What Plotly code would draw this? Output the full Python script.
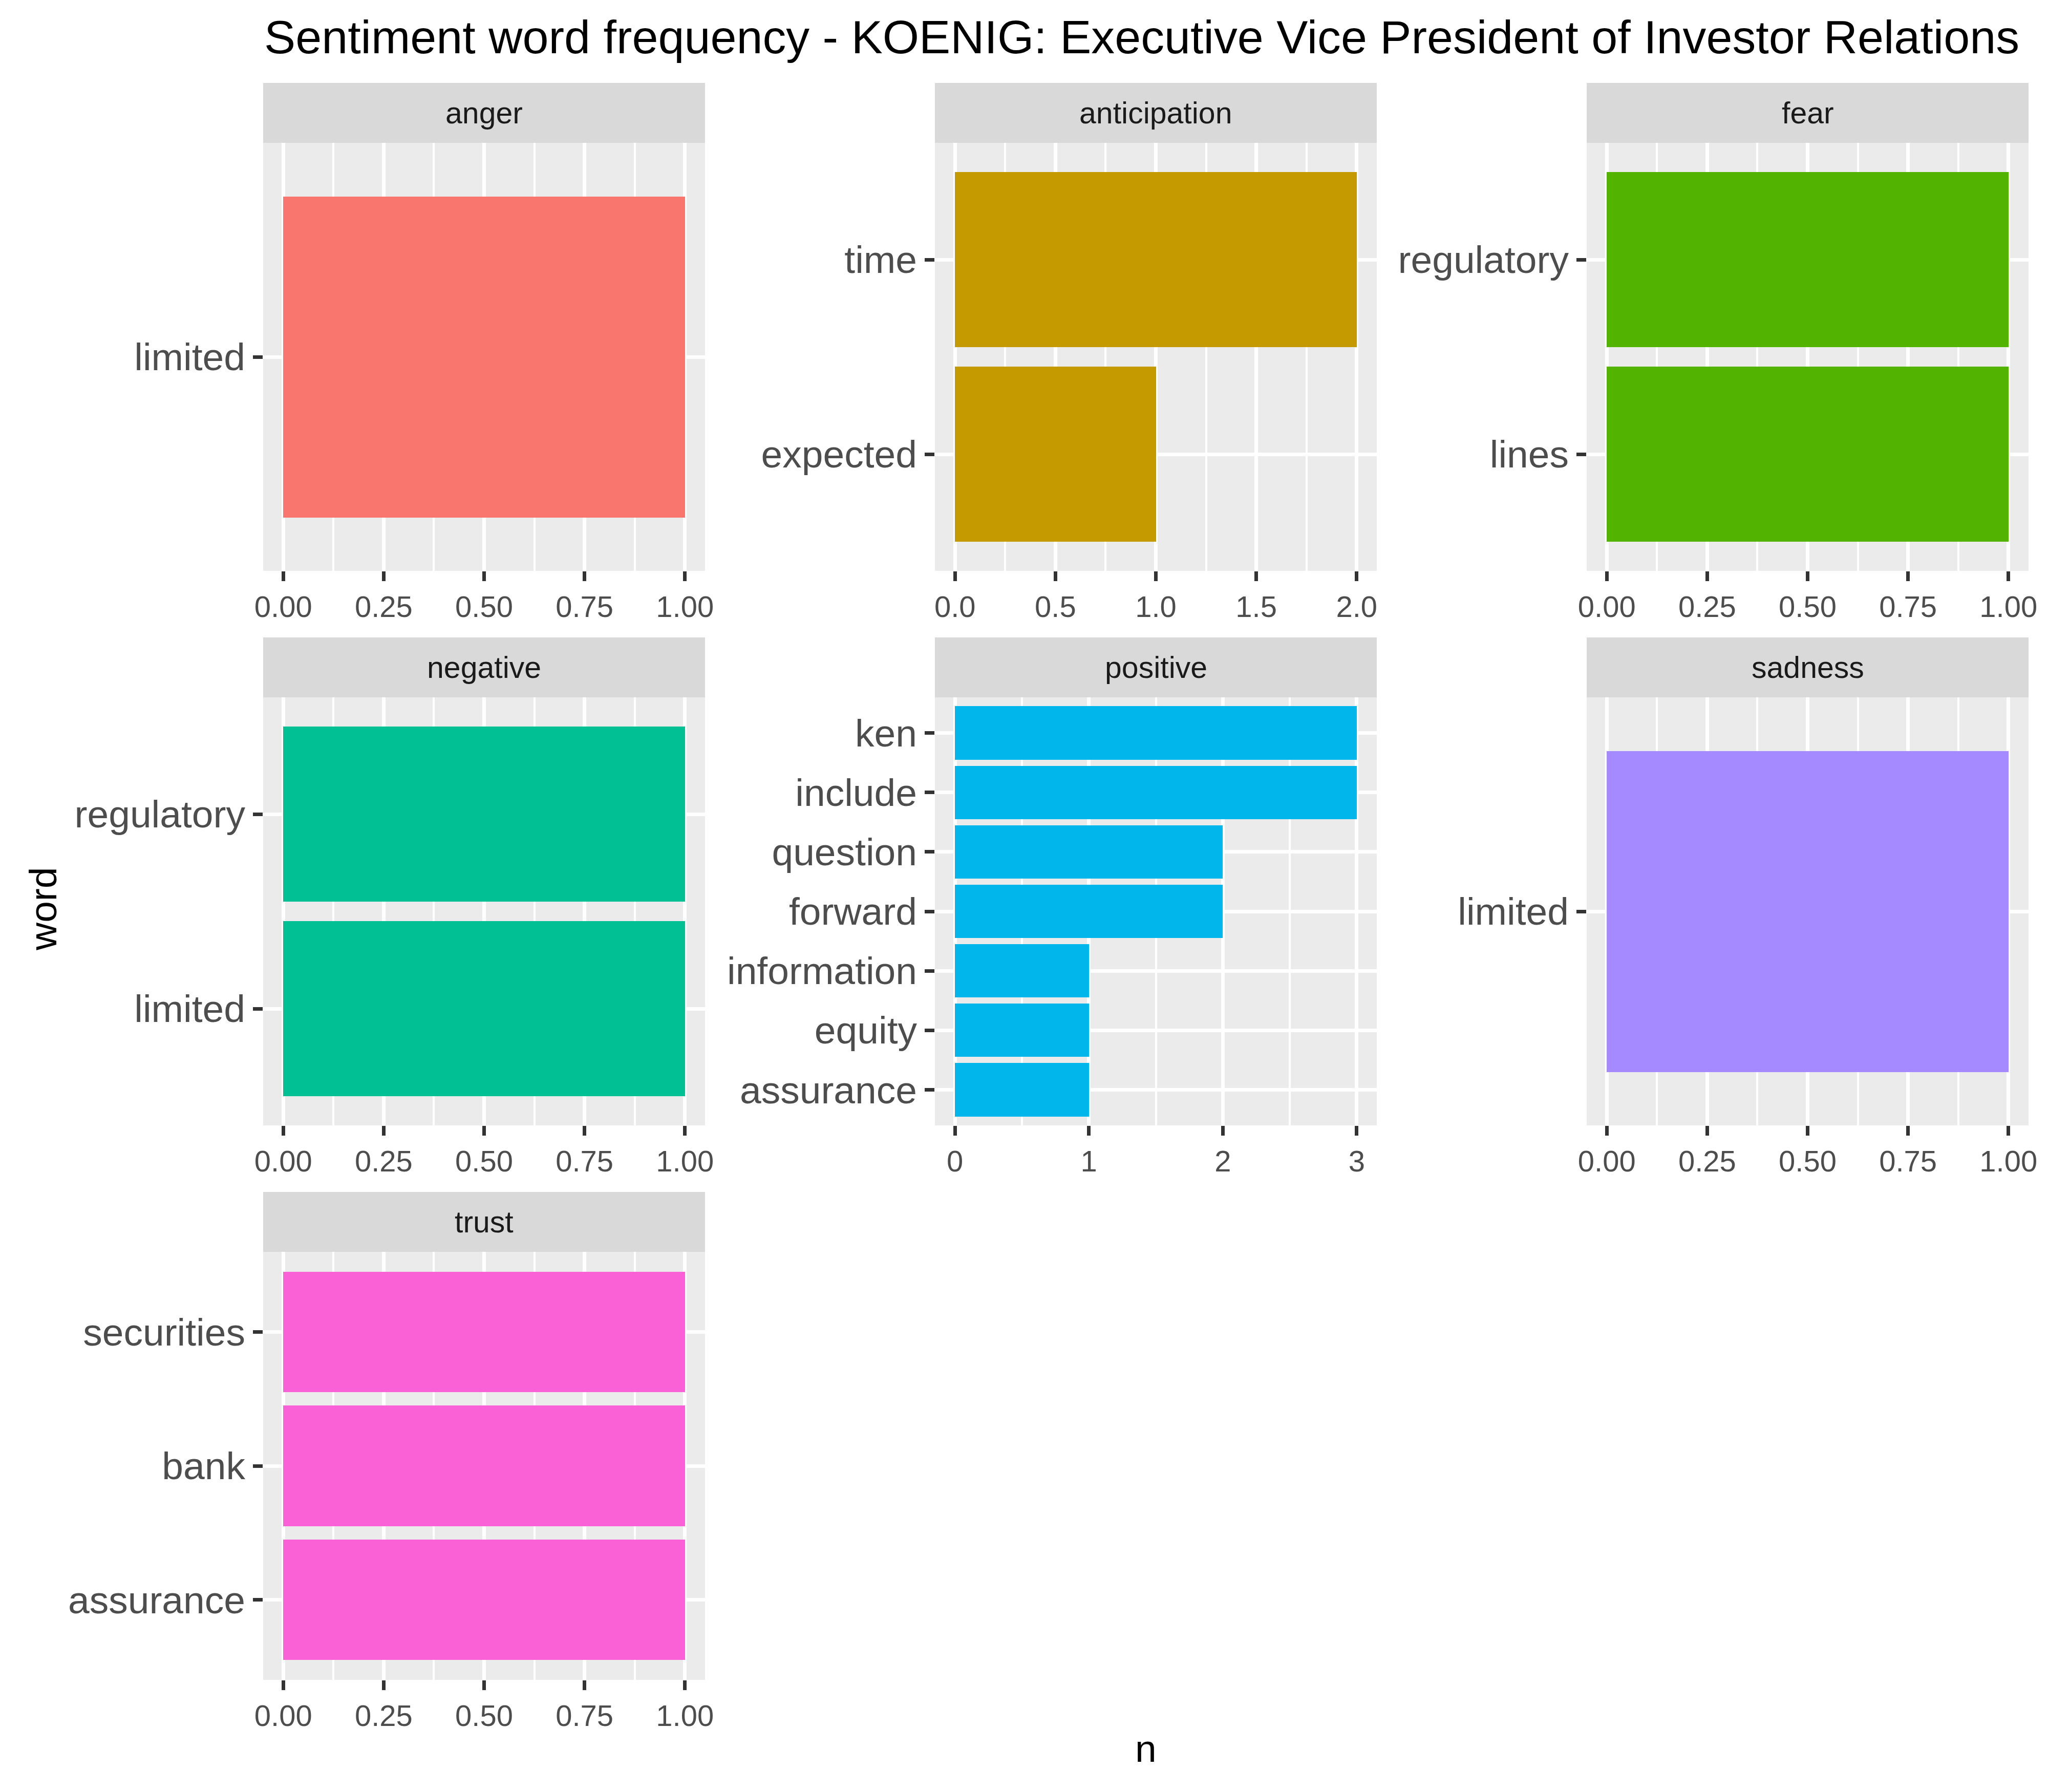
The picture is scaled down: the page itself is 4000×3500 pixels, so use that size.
import plotly.graph_objects as go

# page body has an 8px margin: figure is offset by OFF px inside the 4000x3500 window
OFF = 8
W, H = 4000 - 2 * OFF, 3500 - 2 * OFF

# ---- data ----
facets = ["anger", "anticipation", "fear", "negative", "positive", "sadness", "trust"]
colors = ["#F8766D", "#C49A00", "#53B400", "#00C094", "#00B6EB", "#A58AFF", "#FB61D7"]

# words listed bottom-to-top (as drawn on the y axis)
anger_words = ["limited"]
anger_n = [1]
anticipation_words = ["expected", "time"]
anticipation_n = [1, 2]
fear_words = ["lines", "regulatory"]
fear_n = [1, 1]
negative_words = ["limited", "regulatory"]
negative_n = [1, 1]
positive_words = ["assurance", "equity", "information", "forward", "question", "include", "ken"]
positive_n = [1, 1, 1, 2, 2, 3, 3]
sadness_words = ["limited"]
sadness_n = [1]
trust_words = ["assurance", "bank", "securities"]
trust_n = [1, 1, 1]

words = [anger_words, anticipation_words, fear_words, negative_words,
         positive_words, sadness_words, trust_words]
counts = [anger_n, anticipation_n, fear_n, negative_n, positive_n, sadness_n, trust_n]

# x-axis tick settings per facet: (max, dtick, format)
xticks = [(1, 0.25, ".2f"), (2, 0.5, ".1f"), (1, 0.25, ".2f"), (1, 0.25, ".2f"),
          (3, 1, "d"), (1, 0.25, ".2f"), (1, 0.25, ".2f")]

# ---- layout geometry (window pixels) ----
cols = [(514, 1377), (1826, 2689), (3099, 3962)]
rows = [(279, 1115), (1362, 2198), (2445, 3281)]
strip_h = 117
pos = [(0, 0), (0, 1), (0, 2), (1, 0), (1, 1), (1, 2), (2, 0)]


def px(X):
    return (X - OFF) / W


def py(Y):
    return 1 - (Y - OFF) / H


FONT = "Liberation Sans, Arial, sans-serif"

fig = go.Figure()
layout = dict(
    template="none",
    width=W, height=H,
    margin=dict(l=0, r=0, t=0, b=0, pad=0, autoexpand=False),
    paper_bgcolor="white",
    plot_bgcolor="#EBEBEB",
    showlegend=False,
    font=dict(family=FONT),
    bargap=0,
)
shapes = []
annotations = []

for i, name in enumerate(facets):
    r, c = pos[i]
    x0, x1 = cols[c]
    y0, y1 = rows[r]
    k = "" if i == 0 else str(i + 1)
    xa, ya = "x" + k, "y" + k
    fig.add_trace(go.Bar(
        x=counts[i], y=words[i], orientation="h",
        marker=dict(color=colors[i], line=dict(width=0)),
        width=0.9, xaxis=xa, yaxis=ya, hoverinfo="skip",
    ))
    mx, dt, fmt = xticks[i]
    pad = 0.05 * mx
    layout["xaxis" + k] = dict(
        domain=[px(x0), px(x1)], anchor=ya, automargin=False,
        range=[-pad, mx + pad], dtick=dt, tick0=0, tickformat=fmt,
        showgrid=True, gridcolor="white", gridwidth=7,
        minor=dict(dtick=dt / 2, tick0=0, showgrid=True, gridcolor="white", gridwidth=3.5, ticklen=0),
        ticks="outside", ticklen=19, tickwidth=7, tickcolor="#333333",
        tickfont=dict(size=58, color="#4D4D4D", family=FONT),
        zeroline=False, showline=False, fixedrange=True,
    )
    n = len(words[i])
    layout["yaxis" + k] = dict(
        domain=[py(y1), py(y0)], anchor=xa, automargin=False,
        type="category", categoryorder="array", categoryarray=words[i],
        range=[-0.6, n - 1 + 0.6],
        showgrid=True, gridcolor="white", gridwidth=7,
        ticks="outside", ticklen=19, tickwidth=7, tickcolor="#333333",
        tickfont=dict(size=75, color="#4D4D4D", family=FONT),
        zeroline=False, showline=False, fixedrange=True,
    )
    # strip
    shapes.append(dict(type="rect", xref="paper", yref="paper",
                       x0=px(x0), x1=px(x1), y0=py(y0), y1=py(y0 - strip_h),
                       fillcolor="#D9D9D9", line=dict(width=0), layer="below"))
    annotations.append(dict(text=name, xref="paper", yref="paper",
                            x=px((x0 + x1) / 2), y=py(y0 - strip_h / 2),
                            xanchor="center", yanchor="middle", showarrow=False,
                            font=dict(size=59, color="#1A1A1A", family=FONT)))

# title
annotations.append(dict(text="Sentiment word frequency - KOENIG: Executive Vice President of Investor Relations",
                        xref="paper", yref="paper", x=px(514), y=py(72),
                        xanchor="left", yanchor="middle", showarrow=False,
                        font=dict(size=91.7, color="black", family=FONT)))
# axis titles
annotations.append(dict(text="n", xref="paper", yref="paper", x=px(2238), y=py(3415),
                        xanchor="center", yanchor="middle", showarrow=False,
                        font=dict(size=75, color="black", family=FONT)))
annotations.append(dict(text="word", xref="paper", yref="paper", x=px(84), y=py(1775),
                        xanchor="center", yanchor="middle", showarrow=False, textangle=-90,
                        font=dict(size=75, color="black", family=FONT)))

layout["shapes"] = shapes
layout["annotations"] = annotations
fig.update_layout(**layout)
fig.write_html("out.html")
